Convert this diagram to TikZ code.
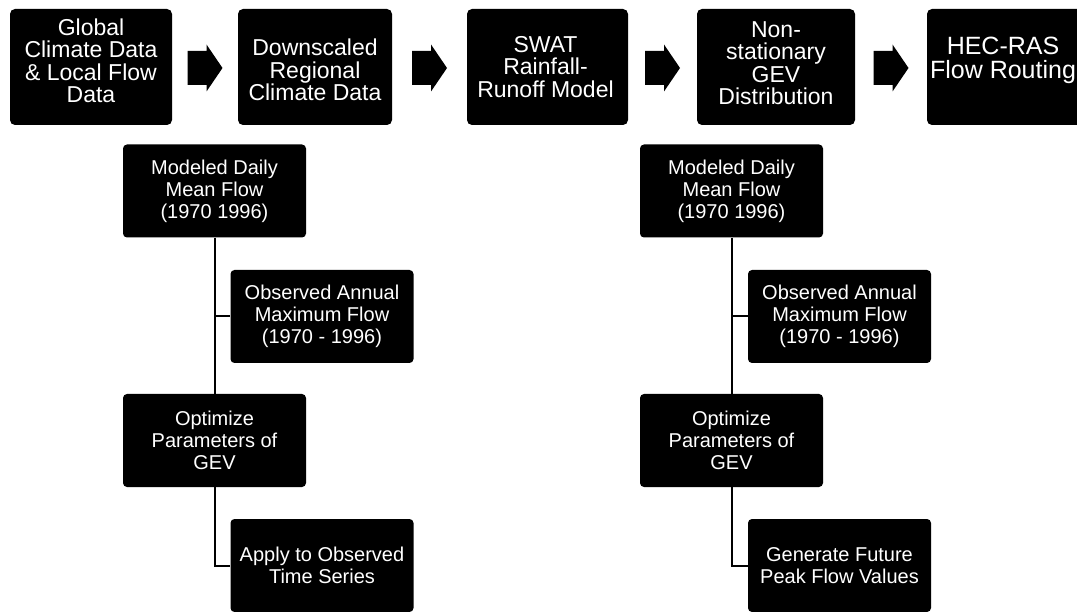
\documentclass[tikz,border=0pt]{standalone}
\usepackage{fontspec}
\setmainfont{Liberation Sans}
\usetikzlibrary{calc}

\tikzset{
  topbox/.style={fill=black, rounded corners=5pt, minimum height=116pt, inner sep=0pt},
  toptext/.style={text=white, align=center, inner sep=0pt, font=\fontsize{23}{22.5}\selectfont},
  subbox/.style={fill=black, rounded corners=4pt, minimum width=183pt, minimum height=93pt,
    text=white, align=center, inner sep=2pt, font=\fontsize{20}{22}\selectfont},
  link/.style={draw=black, line width=2pt},
  blockarrow/.style={fill=black}
}

% block arrow centred on a named coordinate
\newcommand{\blockarrowat}[1]{%
  \fill[blockarrow] ($(#1)+(-17.5,-17)$) -- ++(19,0) -- ++(0,-6.5) -- ++(16,23.5)
    -- ++(-16,23.5) -- ++(0,-6.5) -- ++(-19,0) -- cycle;}

\begin{document}
\begin{tikzpicture}[x=1pt, y=-1pt]
  \useasboundingbox (0,0) rectangle (1077,612);

  % main chain of steps
  \node[topbox, minimum width=162pt] (b1) at (91,67)  {};
  \node[topbox, minimum width=154pt] (b2) at (315,67) {};
  \node[topbox, minimum width=161pt] (b3) at (547.5,67) {};
  \node[topbox, minimum width=158pt] (b4) at (776,67) {};
  \node[topbox, minimum width=160pt] (b5) at (1007,67) {};

  \node[toptext] (t1) at ($(b1.center)+(0,-6)$) {Global\\Climate Data\\\& Local Flow\\Data};
  \node[toptext] (t2) at ($(b2.center)+(0,3)$)  {Downscaled\\Regional\\Climate Data};
  \node[toptext] (t3) at ($(b3.center)+(-2,0)$) {SWAT\\Rainfall-\\Runoff Model};
  \node[toptext] (t4) at ($(b4.center)+(0,-4)$) {Non-\\stationary\\GEV\\Distribution};
  \node[toptext, font=\fontsize{25}{24}\selectfont] (t5) at ($(b5.center)+(-4,-7)$) {HEC-RAS\\Flow Routing};

  \foreach \a/\b [count=\i] in {b1/b2, b2/b3, b3/b4, b4/b5}{
    \coordinate (arr\i) at ($(\a.east)!0.5!(\b.west)+(0,1)$);
    \blockarrowat{arr\i}
  }

  % left branch: calibration on observed data
  \node[subbox] (lm)  at (214.5,191)   {Modeled Daily\\Mean Flow\\(1970 1996)};
  \node[subbox] (lob) at (322,316.5)   {Observed Annual\\Maximum Flow\\(1970 - 1996)};
  \node[subbox] (lop) at (214.5,440.5) {Optimize\\Parameters of\\GEV};
  \node[subbox] (lap) at (322,565.5)   {Apply to Observed\\Time Series};

  \draw[link] (lm.south) -- (lop.north);
  \draw[link] (lm.south |- lob.west) -- (lob.west);
  \draw[link] (lop.south) |- (lap.west);

  % right branch: projection of future peaks
  \node[subbox] (rm)  at (731.5,191)   {Modeled Daily\\Mean Flow\\(1970 1996)};
  \node[subbox] (rob) at (839.5,316.5) {Observed Annual\\Maximum Flow\\(1970 - 1996)};
  \node[subbox] (rop) at (731.5,440.5) {Optimize\\Parameters of\\GEV};
  \node[subbox] (rge) at (839.5,565.5) {Generate Future\\Peak Flow Values};

  \draw[link] (rm.south) -- (rop.north);
  \draw[link] (rm.south |- rob.west) -- (rob.west);
  \draw[link] (rop.south) |- (rge.west);
\end{tikzpicture}
\end{document}
